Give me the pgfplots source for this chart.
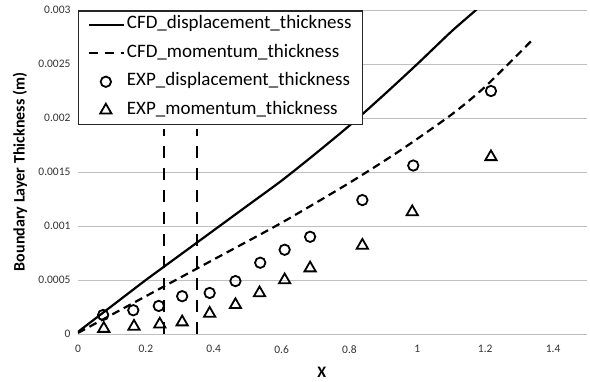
\documentclass[border=0pt]{standalone}
\usepackage{pgfplots}
\pgfplotsset{compat=1.18}
\usepackage{fontspec}
\setmainfont{Carlito}
\definecolor{gridgray}{HTML}{BFBFBF}
\definecolor{ticktext}{HTML}{333333}
\begin{document}
\begin{tikzpicture}[x=1pt,y=1pt]
\path[use as bounding box] (0,0) rectangle (590,381);
\begin{axis}[
  at={(78pt,47pt)}, anchor=south west,
  scale only axis, width=509pt, height=324pt,
  xmin=0, xmax=1.5, ymin=0, ymax=0.003,
  xtick={0,0.2,0.4,0.6,0.8,1,1.2,1.4},
  xticklabels={0,0.2,0.4,0.6,0.8,1,1.2,1.4},
  ytick={0,0.0005,0.001,0.0015,0.002,0.0025,0.003},
  yticklabels={0,0.0005,0.001,0.0015,0.002,0.0025,0.003},
  scaled y ticks=false,
  /pgf/number format/assume math mode=true,
  ticklabel style={font=\fontsize{11.5}{13}\selectfont, text=ticktext},
  xticklabel style={yshift=-8pt},
  yticklabel style={xshift=-4pt},
  axis line style={draw=none},
  tick style={draw=none},
  ymajorgrids, grid style={gridgray, line width=0.9pt},
  clip=true,
  xlabel={\textbf{X}}, ylabel={\textbf{Boundary Layer Thickness (m)}},
  xlabel style={at={(axis description cs:0.479,-0.117)}, anchor=center, font=\fontsize{16}{18}\selectfont},
  ylabel style={at={(axis description cs:-0.114,0.5)}, anchor=center, font=\fontsize{16}{18}\selectfont},
  legend style={at={(rel axis cs:0,1)}, anchor=north west, draw=black!85, line width=1.5pt,
    fill=white, font=\fontsize{19}{21}\selectfont, inner xsep=9pt, inner ysep=3pt,
    row sep=6.5pt, nodes={inner sep=2pt, text height=13pt, text depth=5pt}},
  legend cell align=left,
]
\addplot[black, line width=2.2pt, smooth, tension=0.4,
  legend image code/.code={\draw[black,line width=2.2pt] (0pt,0pt) -- (35pt,0pt);}]
  coordinates {(0,0.00002) (0.1,0.00026) (0.2,0.0005) (0.3,0.00073) (0.4,0.00096) (0.5,0.00119) (0.6,0.00142) (0.7,0.00167) (0.8,0.00193) (0.9,0.00221) (1.0,0.0025) (1.1,0.0028) (1.173,0.003) (1.19,0.00305)};
\addlegendentry{CFD\_displacement\_thickness}
\addplot[black, line width=2.2pt, dash pattern=on 8pt off 5pt, smooth, tension=0.4,
  legend image code/.code={\draw[black,line width=2.2pt,dash pattern=on 9pt off 7pt] (0pt,0pt) -- (35pt,0pt);}]
  coordinates {(0,0.00001) (0.2,0.00035) (0.4,0.00069) (0.6,0.00103) (0.8,0.0014) (0.95,0.0017) (1.1,0.00203) (1.2,0.00229) (1.338,0.00272)};
\addlegendentry{CFD\_momentum\_thickness}
\addplot[only marks, mark=o, mark size=5.2pt, mark options={black, line width=1.8pt},
  legend image code/.code={\draw[mark=o, mark size=5.2pt, mark options={black, line width=1.8pt}] plot coordinates {(17pt,0pt)};}]
  coordinates {(0.074,0.000176) (0.163,0.00022) (0.238,0.00026) (0.307,0.00035) (0.388,0.00038) (0.464,0.00049) (0.537,0.00066) (0.609,0.00078) (0.684,0.0009) (0.838,0.00124) (0.988,0.00156) (1.217,0.00225)};
\addlegendentry{EXP\_displacement\_thickness}
\addplot[only marks, mark=triangle, mark size=6.5pt, mark options={black, line width=1.8pt},
  legend image code/.code={\draw[mark=triangle, mark size=6.5pt, mark options={black, line width=1.8pt}] plot coordinates {(17pt,0pt)};}]
  coordinates {(0.076,0.00005) (0.165,0.00007) (0.241,0.00009) (0.307,0.00011) (0.388,0.00019) (0.464,0.00027) (0.535,0.00038) (0.609,0.0005) (0.684,0.00061) (0.838,0.00082) (0.985,0.00113) (1.217,0.00164)};
\addlegendentry{EXP\_momentum\_thickness}
\addplot[black, line width=2pt, dash pattern=on 12pt off 10pt, forget plot] coordinates {(0.253,0) (0.253,0.0019)};
\addplot[black, line width=2pt, dash pattern=on 12pt off 10pt, forget plot] coordinates {(0.35,0) (0.35,0.0019)};
\end{axis}
\end{tikzpicture}
\end{document}
